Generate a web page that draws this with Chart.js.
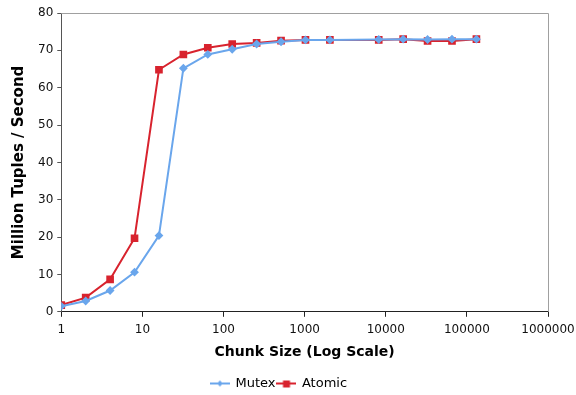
<!DOCTYPE html>
<html>
<head>
<meta charset="utf-8">
<script src="https://cdn.jsdelivr.net/npm/chart.js@4/dist/chart.umd.min.js"></script>
<style>
  html, body { margin: 0; padding: 0; background: #fff; }
  #wrap { width: 576px; height: 395px; }
</style>
</head>
<body>
<div id="wrap"><canvas id="chart" width="576" height="395"></canvas></div>
<script>
// chunk sizes (x) and throughput in million tuples / second
const chunkSizes = [1, 2, 4, 8, 16, 32, 64, 128, 256, 512, 1024, 2048, 8192, 16384, 32768, 65536, 131072];
const mutexValues = [1.5, 2.9, 5.7, 10.6, 20.4, 65.2, 68.9, 70.3, 71.7, 72.3, 72.8, 72.8, 72.9, 73.0, 72.9, 73.0, 73.0];
const atomicValues = [1.8, 3.8, 8.7, 19.7, 64.8, 68.9, 70.7, 71.7, 72.0, 72.6, 72.8, 72.8, 72.8, 73.0, 72.5, 72.5, 73.0];
const xTicks = [1, 10, 100, 1000, 10000, 100000, 1000000];

const mutexColor = '#6aa6ec';
const atomicColor = '#d8232e';
const font = "'DejaVu Sans', Verdana, sans-serif";

function toPoints(values) {
  return chunkSizes.map((x, i) => ({ x: x, y: values[i] }));
}

function legendIcon(color, style) {
  const c = document.createElement('canvas');
  c.width = 20; c.height = 10;
  const g = c.getContext('2d');
  g.strokeStyle = color;
  g.fillStyle = color;
  g.lineWidth = 2;
  g.beginPath(); g.moveTo(0, 5); g.lineTo(20, 5); g.stroke();
  g.beginPath();
  if (style === 'rect') {
    g.rect(6.5, 2, 7, 7);
  } else {
    g.moveTo(10, 2); g.lineTo(13, 5); g.lineTo(10, 8); g.lineTo(7, 5); g.closePath();
  }
  g.fill();
  return c;
}

const frame = {
  id: 'frame',
  afterDatasetsDraw(chart) {
    const a = chart.chartArea, ctx = chart.ctx;
    ctx.save();
    ctx.strokeStyle = '#a0a0a0';
    ctx.lineWidth = 1;
    ctx.beginPath();
    ctx.moveTo(a.left, a.top + 0.5);
    ctx.lineTo(a.right + 0.5, a.top + 0.5);
    ctx.lineTo(a.right + 0.5, a.bottom);
    ctx.stroke();
    ctx.restore();
  }
};

const icons = [legendIcon(mutexColor, 'rectRot'), legendIcon(atomicColor, 'rect')];

new Chart(document.getElementById('chart'), {
  type: 'line',
  data: {
    datasets: [
      {
        label: 'Mutex',
        data: toPoints(mutexValues),
        borderColor: mutexColor,
        backgroundColor: mutexColor,
        borderWidth: 2,
        pointStyle: 'rectRot',
        pointRadius: 3,
        pointHoverRadius: 3,
        tension: 0
      },
      {
        label: 'Atomic',
        data: toPoints(atomicValues),
        borderColor: atomicColor,
        backgroundColor: atomicColor,
        borderWidth: 2,
        pointStyle: 'rect',
        pointRadius: 4,
        pointHoverRadius: 4,
        tension: 0
      }
    ]
  },
  options: {
    responsive: false,
    animation: false,
    layout: { padding: { top: 13, right: 28, left: 10, bottom: -5 } },
    scales: {
      x: {
        type: 'logarithmic',
        min: 1,
        max: 1000000,
        afterBuildTicks: (axis) => { axis.ticks = xTicks.map(v => ({ value: v })); },
        afterFit: (axis) => { axis.paddingRight = 0; axis.paddingLeft = 0; },
        ticks: {
          color: '#111',
          font: { family: font, size: 12 },
          maxRotation: 0,
          autoSkip: false,
          padding: 6,
          callback: (v) => String(v)
        },
        grid: { drawOnChartArea: false, drawTicks: true, tickLength: 5, color: '#222' },
        border: { color: '#222', width: 1 },
        title: {
          display: true,
          text: 'Chunk Size (Log Scale)',
          color: '#000',
          font: { family: font, size: 14, weight: 'bold' },
          padding: { top: 1, bottom: 14 }
        }
      },
      y: {
        min: 0,
        max: 80,
        afterFit: (axis) => { axis.paddingTop = 0; axis.paddingBottom = 0; },
        ticks: {
          stepSize: 10,
          color: '#111',
          font: { family: font, size: 12 },
          padding: 4
        },
        grid: { drawOnChartArea: false, drawTicks: true, tickLength: 4, color: '#555' },
        border: { color: '#555', width: 1 },
        title: {
          display: true,
          text: 'Million Tuples / Second',
          color: '#000',
          font: { family: font, size: 15, weight: 'bold' },
          padding: { top: 0, bottom: 6 }
        }
      }
    },
    plugins: {
      legend: {
        position: 'bottom',
        labels: {
          usePointStyle: true,
          pointStyleWidth: 18,
          color: '#111',
          font: { family: font, size: 13 },
          padding: 2,
          generateLabels: (chart) => chart.data.datasets.map((d, i) => ({
            text: d.label,
            pointStyle: icons[i],
            fillStyle: d.borderColor,
            strokeStyle: d.borderColor,
            lineWidth: 0,
            datasetIndex: i,
            hidden: false
          }))
        }
      },
      tooltip: { enabled: false }
    }
  },
  plugins: [frame]
});
</script>
</body>
</html>
